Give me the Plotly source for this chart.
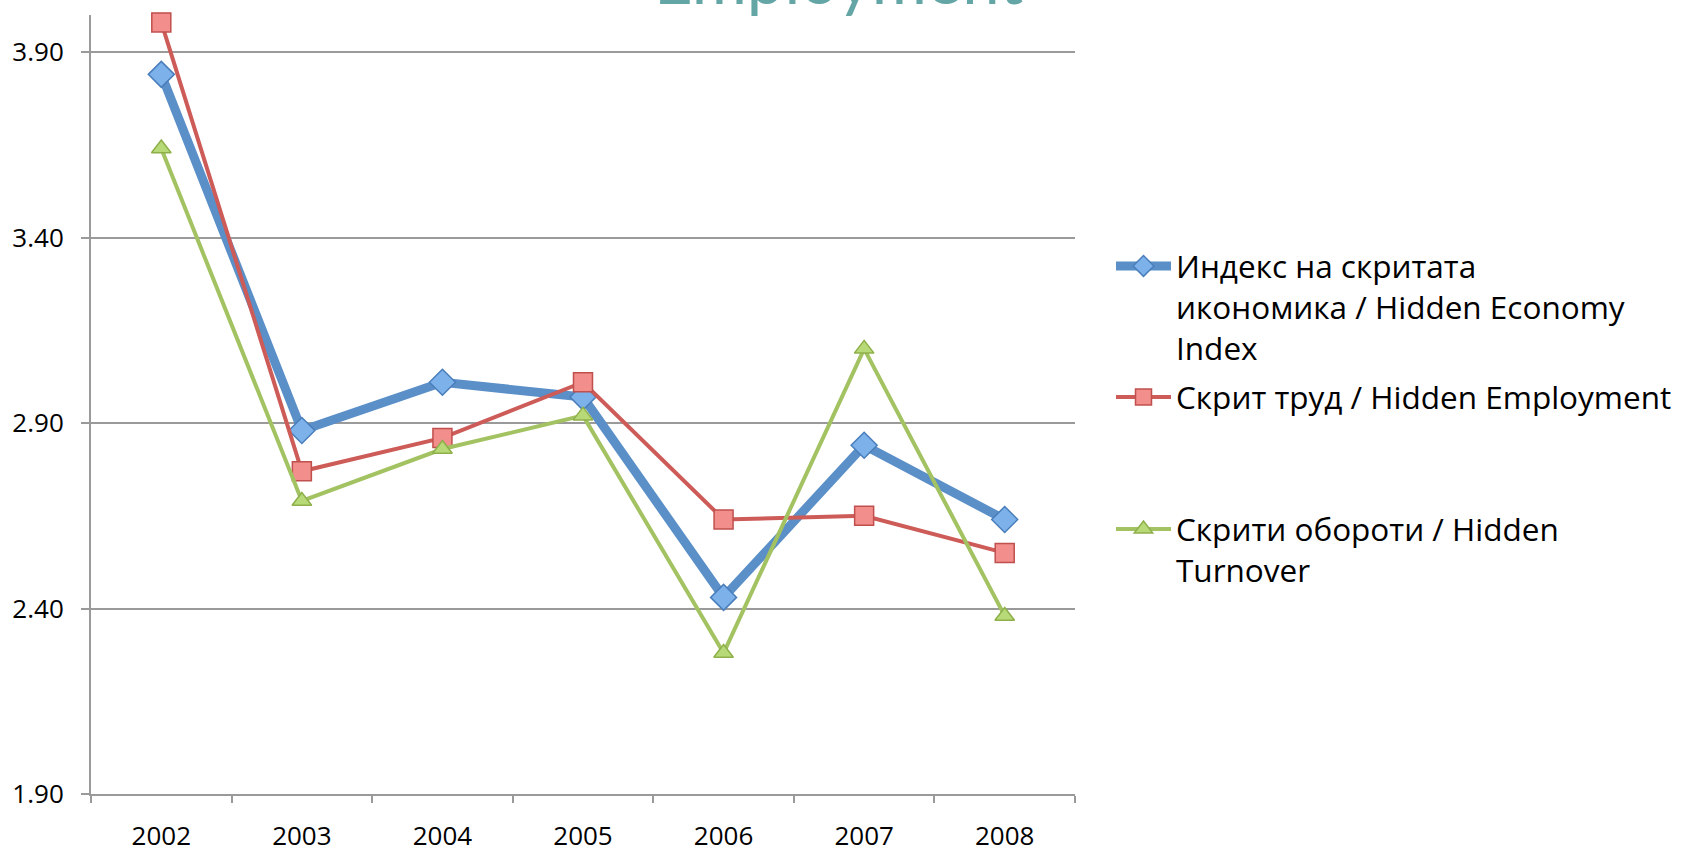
import plotly.graph_objects as go

years = ["2002", "2003", "2004", "2005", "2006", "2007", "2008"]
hidden_economy_index = [3.84, 2.88, 3.01, 2.97, 2.43, 2.84, 2.64]
hidden_employment = [3.98, 2.77, 2.86, 3.01, 2.64, 2.65, 2.55]
hidden_turnover = [3.64, 2.69, 2.83, 2.92, 2.28, 3.10, 2.38]
ytick_vals = [1.90, 2.40, 2.90, 3.40, 3.90]

names = [
    "Индекс на скритата<br>икономика / Hidden Economy<br>Index",
    "Скрит труд / Hidden Employment",
    "Скрити обороти / Hidden<br>Turnover",
]

W, H = 1686, 852
L, R, T, B = 91, 1686 - 1075, 15, 852 - 794

FONT = "Open Sans"

fig = go.Figure()
fig.add_trace(go.Scatter(
    x=years, y=hidden_economy_index, name=names[0], mode="lines+markers",
    line=dict(color="#5A8FC8", width=9),
    marker=dict(symbol="diamond", size=20, color="#7DB1EA",
                line=dict(color="#4A7EBB", width=1.5)),
    cliponaxis=False, legend="legend",
))
fig.add_trace(go.Scatter(
    x=years, y=hidden_employment, name=names[1], mode="lines+markers",
    line=dict(color="#CD5C58", width=4),
    marker=dict(symbol="square", size=19, color="#F28E8B",
                line=dict(color="#C0504D", width=1.5)),
    cliponaxis=False, legend="legend2",
))
fig.add_trace(go.Scatter(
    x=years, y=hidden_turnover, name=names[2], mode="lines+markers",
    line=dict(color="#A3C262", width=4),
    marker=dict(symbol="triangle-up", size=17, color="#B8D977",
                line=dict(color="#8EB04A", width=1.5)),
    cliponaxis=False, legend="legend3",
))

def px_to_paper_y(py):
    return (H - B - py) / (H - T - B)

def px_to_paper_x(px):
    return (px - L) / (W - L - R)

leg_common = dict(
    font=dict(family=FONT, size=31.5, color="black"),
    bgcolor="rgba(0,0,0,0)", borderwidth=0,
    xanchor="left", yanchor="top", valign="top", itemwidth=55,
)
legx = px_to_paper_x(1111)

fig.update_layout(
    width=W, height=H,
    margin=dict(l=L, r=R, t=T, b=B, pad=0, autoexpand=False),
    paper_bgcolor="white", plot_bgcolor="white",
    font=dict(family=FONT, color="black"),
    xaxis=dict(
        type="category", showgrid=False, showline=True, linecolor="#9A9A9A",
        linewidth=2, ticks="outside", tickson="boundaries", ticklen=7,
        tickcolor="#9A9A9A", tickwidth=1.5,
        tickfont=dict(family=FONT, size=26, color="black"),
        ticklabelstandoff=18, range=[-0.5, 6.5],
    ),
    yaxis=dict(
        range=[1.90, 4.0], tickvals=ytick_vals, tickformat=".2f",
        showgrid=True, gridcolor="#9A9A9A", gridwidth=2,
        showline=True, linecolor="#9A9A9A", linewidth=2,
        ticks="outside", ticklen=8, tickcolor="#9A9A9A", tickwidth=2,
        zeroline=False,
        tickfont=dict(family=FONT, size=26, color="black"),
        ticklabelstandoff=12,
    ),
    legend=dict(x=legx, y=px_to_paper_y(239), **leg_common),
    legend2=dict(x=legx, y=px_to_paper_y(370), **leg_common),
    legend3=dict(x=legx, y=px_to_paper_y(502), **leg_common),
    showlegend=True,
    annotations=[dict(
        text="Employment", xref="paper", yref="paper",
        x=px_to_paper_x(838), y=px_to_paper_y(-22),
        xanchor="center", yanchor="middle", showarrow=False,
        font=dict(family="Lato", size=67, color="#64A5A5"),
    )],
)

fig.write_html(
    "out.html",
    config={"displayModeBar": False},
    post_script="document.body.style.margin='0px';document.body.style.overflow='hidden';",
)
